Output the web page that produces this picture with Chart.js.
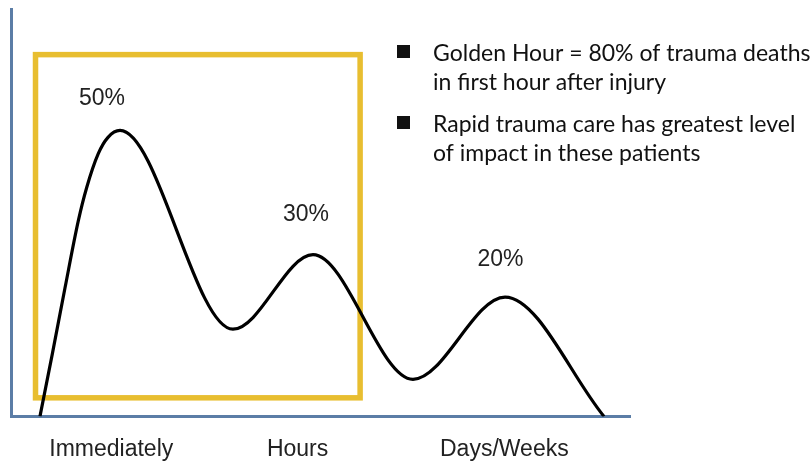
<!DOCTYPE html>
<html>
<head>
<meta charset="utf-8">
<script src="https://cdn.jsdelivr.net/npm/chart.js@4/dist/chart.umd.min.js"></script>
<style>
  html, body { margin: 0; padding: 0; background: #ffffff; }
  #wrap { width: 811px; height: 462px; }
</style>
</head>
<body>
<div id="wrap"><canvas id="chart" width="811" height="462"></canvas></div>
<script>
// Trimodal distribution of trauma deaths over time after injury
const timeX = [4.68, 6.67, 8.72, 10.87, 12.23, 14.10, 15.67, 17.61, 35.86, 48.79, 64.94, 79.81, 95.8];
const deathRate = [0, 15.3, 31.5, 48.0, 56.2, 64.5, 68.5, 70.2, 21.4, 39.7, 9.1, 29.3, 0];

// Phase ticks along the time axis
const phaseTicks = [16.2, 46.3, 79.7];
const phaseLabels = ['Immediately', 'Hours', 'Days/Weeks'];

// Share of deaths at each peak
const peakLabels = ['50%', '30%', '20%'];

// Golden hour window (time range and height band)
const goldenX = [3.96, 56.4];
const goldenY = [4.56, 88.8];

// Bullet notes
const notes = [
  ['Golden Hour = 80% of trauma deaths', 'in first hour after injury'],
  ['Rapid trauma care has greatest level', 'of impact in these patients']
];

const AXIS_BLUE = '#5b7da6';

const goldenBox = {
  id: 'goldenBox',
  beforeDatasetsDraw(chart) {
    const { ctx, scales: { x, y } } = chart;
    const x0 = x.getPixelForValue(goldenX[0]);
    const x1 = x.getPixelForValue(goldenX[1]);
    const y0 = y.getPixelForValue(goldenY[1]);
    const y1 = y.getPixelForValue(goldenY[0]);
    ctx.save();
    ctx.strokeStyle = '#e8be30';
    ctx.lineWidth = 5.5;
    ctx.lineJoin = 'miter';
    ctx.strokeRect(x0, y0, x1 - x0, y1 - y0);
    ctx.restore();
  }
};

const peakText = {
  id: 'peakText',
  afterDatasetsDraw(chart, args, opts) {
    const { ctx } = chart;
    const pts = chart.getDatasetMeta(0).data;
    const peaks = [];
    for (let i = 1; i < deathRate.length - 1; i++) {
      if (deathRate[i] > deathRate[i - 1] && deathRate[i] > deathRate[i + 1]) peaks.push(i);
    }
    ctx.save();
    ctx.font = '23px "Liberation Sans", Arial, sans-serif';
    ctx.fillStyle = '#222222';
    ctx.textAlign = 'center';
    ctx.textBaseline = 'middle';
    peaks.forEach((idx, k) => {
      const off = opts.offsets[k];
      ctx.fillText(peakLabels[k], pts[idx].x + off[0], pts[idx].y + off[1]);
    });
    ctx.restore();
  }
};

const bulletNotes = {
  id: 'bulletNotes',
  afterDraw(chart, args, opts) {
    const { ctx } = chart;
    ctx.save();
    ctx.fillStyle = '#111111';
    ctx.font = '23px Lato, "Open Sans", sans-serif';
    ctx.textAlign = 'left';
    ctx.textBaseline = 'alphabetic';
    notes.forEach((lines, n) => {
      const top = opts.blockTops[n];
      ctx.fillRect(opts.squareX, top - 16, 13, 13);
      lines.forEach((line, j) => {
        ctx.fillText(line, opts.textX, top + j * opts.lineGap);
      });
    });
    ctx.restore();
  }
};

new Chart(document.getElementById('chart'), {
  type: 'line',
  data: {
    datasets: [{
      data: timeX.map((t, i) => ({ x: t, y: deathRate[i] })),
      borderColor: '#000000',
      borderWidth: 3.2,
      pointRadius: 0,
      fill: false,
      cubicInterpolationMode: 'monotone'
    }]
  },
  options: {
    responsive: false,
    devicePixelRatio: 1,
    animation: false,
    layout: { padding: { left: 11, right: 181, top: 9, bottom: -20 } },
    plugins: {
      legend: { display: false },
      tooltip: { enabled: false },
      peakText: { offsets: [[-18, -32], [-7, -40], [-4.5, -37.5]] },
      bulletNotes: { squareX: 397, textX: 433, blockTops: [61, 132], lineGap: 29 }
    },
    scales: {
      x: {
        type: 'linear',
        min: 0,
        max: 100,
        grid: { display: false, drawTicks: false },
        border: { display: true, color: AXIS_BLUE, width: 3 },
        afterBuildTicks(axis) {
          axis.ticks = phaseTicks.map(v => ({ value: v }));
        },
        ticks: {
          autoSkip: false,
          maxRotation: 0,
          padding: 19,
          color: '#222222',
          font: { family: '"Liberation Sans", Arial, sans-serif', size: 23 },
          callback(value, index) { return phaseLabels[index]; }
        }
      },
      y: {
        type: 'linear',
        min: 0,
        max: 100,
        grid: { display: false, drawTicks: false },
        border: { display: true, color: AXIS_BLUE, width: 3 },
        ticks: { display: false }
      }
    }
  },
  plugins: [goldenBox, peakText, bulletNotes]
});
</script>
</body>
</html>
